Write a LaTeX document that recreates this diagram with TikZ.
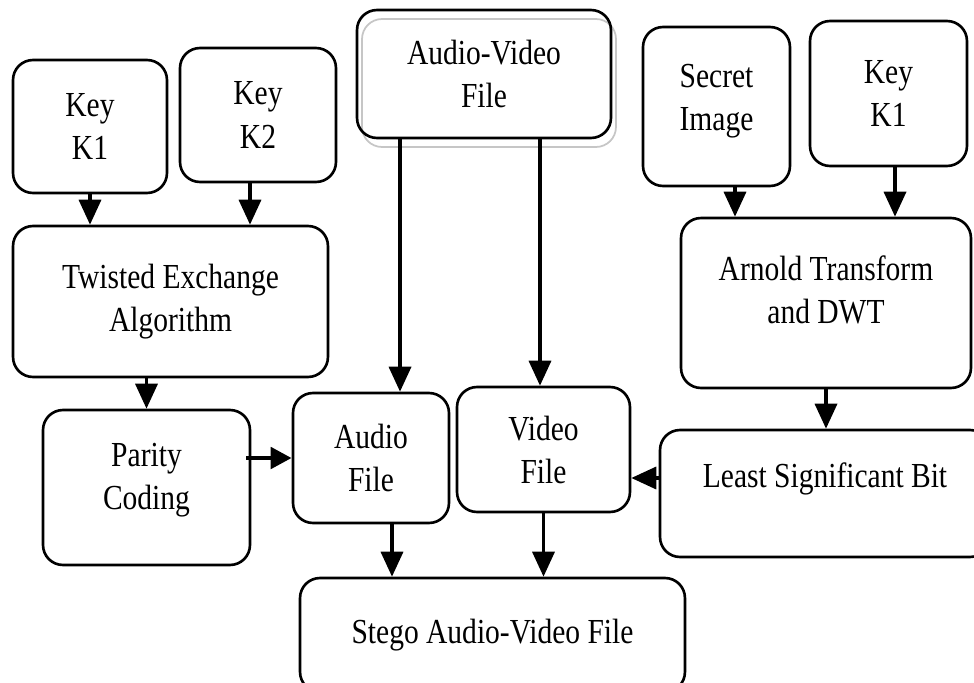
\documentclass[tikz,border=0pt]{standalone}
\usepackage{fontspec}
\setmainfont{Liberation Serif}[FakeStretch=0.84]
\usetikzlibrary{shapes,arrows,arrows.meta,positioning,calc}

\tikzset{
  block/.style={rectangle, draw, rounded corners=0.4cm, line width=1.5pt, align=center, inner sep=2pt},
  flow/.style={-{Triangle[width=0.44cm,length=0.5cm]}, line width=2pt},
}

\begin{document}
\begin{tikzpicture}[x=0.02cm, y=-0.02cm, font=\fontsize{20pt}{24.5pt}\selectfont]
    \useasboundingbox (0,0) rectangle (974,683);

    % Keys and inputs
    \node[block, minimum width=3.08cm, minimum height=2.66cm] (keyA) at (90,126.5) {Key\\K1};
    \node[block, minimum width=3.12cm, minimum height=2.68cm] (keyB) at (258,115) {Key\\K2};
    \node[block, minimum width=5.08cm, minimum height=2.56cm,
          preaction={draw=gray!45, line width=1pt, transform canvas={xshift=0.1cm, yshift=-0.18cm}}] (avfile) at (484,74) {Audio-Video\\File};
    \node[block, minimum width=2.94cm, minimum height=3.18cm, text depth=0.35cm] (secret) at (716.5,106.5) {Secret\\Image};
    \node[block, minimum width=3.14cm, minimum height=2.90cm] (keyC) at (888.5,93.5) {Key\\K1};

    % Processing
    \node[block, minimum width=6.30cm, minimum height=3.02cm] (twisted) at (170.5,301.5) {Twisted Exchange\\Algorithm};
    \node[block, minimum width=5.80cm, minimum height=3.40cm, text depth=0.55cm] (arnold) at (826,303) {Arnold Transform\\and DWT};
    \node[block, minimum width=4.14cm, minimum height=3.10cm, text depth=0.43cm] (parity) at (146.5,487.5) {Parity\\Coding};
    \node[block, minimum width=3.12cm, minimum height=2.60cm] (audio) at (371,458) {Audio\\File};
    \node[block, minimum width=3.46cm, minimum height=2.50cm] (video) at (543.5,449.5) {Video\\File};
    \node[block, minimum width=6.60cm, minimum height=2.54cm, text depth=0.75cm] (lsb) at (825,493.5) {Least Significant Bit};

    % Output
    \node[block, minimum width=7.70cm, minimum height=2.28cm] (stego) at (492.5,635) {Stego Audio-Video File};

    % Offsets
    \coordinate (kb) at ([xshift=-0.16cm]keyB.south);
    \coordinate (ava) at ([xshift=-1.68cm]avfile.south);
    \coordinate (avv) at ([xshift=1.12cm]avfile.south);
    \coordinate (si) at ([xshift=0.37cm]secret.south);
    \coordinate (kc) at ([xshift=0.13cm]keyC.south);
    \coordinate (vl) at ([yshift=-0.57cm]video.east);
    \coordinate (as) at ([xshift=0.42cm]audio.south);

    % Flows
    \draw[flow] (keyA.south) -- (keyA.south |- twisted.north);
    \draw[flow] (kb) -- (kb |- twisted.north);
    \draw[flow] (ava) -- (ava |- audio.north);
    \draw[flow] (avv) -- (avv |- video.north);
    \draw[flow] (si) -- (si |- arnold.north);
    \draw[flow] (kc) -- (kc |- arnold.north);
    \draw[flow] (parity.north |- twisted.south) -- (parity.north);
    \draw[-{Triangle[width=0.42cm,length=0.42cm]}, line width=2.8pt] ([xshift=-0.1cm]parity.east |- audio.west) -- (audio.west);
    \draw[flow] (arnold.south) -- (arnold.south |- lsb.north);
    \draw[flow] (lsb.west |- vl) -- (vl);
    \draw[flow] (as) -- (as |- stego.north);
    \draw[flow] (video.south) -- (video.south |- stego.north);
\end{tikzpicture}
\end{document}
